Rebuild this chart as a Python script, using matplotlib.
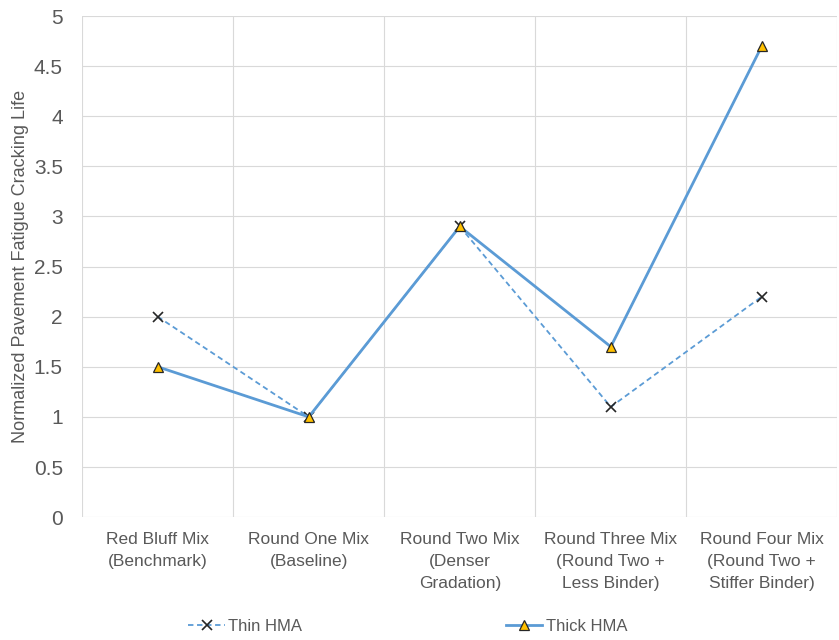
import matplotlib
matplotlib.use("Agg")
import matplotlib.pyplot as plt
from matplotlib.ticker import MultipleLocator, FixedLocator

plt.rcParams["font.family"] = ["Liberation Sans", "DejaVu Sans"]

CATEGORIES = [
    "Red Bluff Mix\n(Benchmark)",
    "Round One Mix\n(Baseline)",
    "Round Two Mix\n(Denser\nGradation)",
    "Round Three Mix\n(Round Two +\nLess Binder)",
    "Round Four Mix\n(Round Two +\nStiffer Binder)",
]
THIN_HMA = [2.0, 1.0, 2.9, 1.1, 2.2]
THICK_HMA = [1.5, 1.0, 2.9, 1.7, 4.7]

GRAY = "#595959"
BLUE = "#5B9BD5"


def plot_fatigue_life():
    fig = plt.figure(figsize=(8.39, 6.4), dpi=100)
    ax = fig.add_axes([0.098, 0.192, 0.9, 0.783])

    x = list(range(len(CATEGORIES)))
    ax.plot(x, THIN_HMA, linestyle=(0, (3, 2)), color=BLUE, linewidth=1.3,
            marker="x", markersize=7, markeredgecolor="#262626",
            markeredgewidth=1.2, label="Thin HMA")
    ax.plot(x, THICK_HMA, linestyle="-", color=BLUE, linewidth=2,
            marker="^", markersize=7, markerfacecolor="#FFC000",
            markeredgecolor="#262626", markeredgewidth=0.9,
            label="Thick HMA")

    ax.set_xlim(-0.5, len(CATEGORIES) - 0.5)
    ax.set_ylim(0, 5)
    ax.yaxis.set_major_locator(MultipleLocator(0.5))
    ax.set_yticklabels([f"{v:g}" for v in ax.get_yticks()])
    ax.set_xticks(x)
    ax.set_xticklabels(CATEGORIES, color=GRAY, fontsize=12.5,
                       linespacing=1.58, va="top")
    ax.xaxis.set_minor_locator(FixedLocator([i - 0.5 for i in range(len(CATEGORIES) + 1)]))

    ax.tick_params(axis="y", colors=GRAY, labelsize=15, length=0, pad=14)
    ax.tick_params(axis="x", which="both", length=0, pad=11)
    ax.grid(axis="y", which="major", color="#D9D9D9", linewidth=0.8)
    ax.grid(axis="x", which="minor", color="#D9D9D9", linewidth=0.8)
    for spine in ax.spines.values():
        spine.set_visible(False)
    ax.set_axisbelow(True)

    ax.set_ylabel("Normalized Pavement Fatigue Cracking Life", color=GRAY,
                  fontsize=13, labelpad=3)

    leg = fig.legend(loc="center", bbox_to_anchor=(0.486, 0.021), ncol=2,
                     frameon=False, fontsize=12, columnspacing=12.2,
                     handlelength=2.2, handletextpad=0.2)
    for text in leg.get_texts():
        text.set_color(GRAY)

    fig.savefig("out.png", dpi=100)


if __name__ == "__main__":
    plot_fatigue_life()
